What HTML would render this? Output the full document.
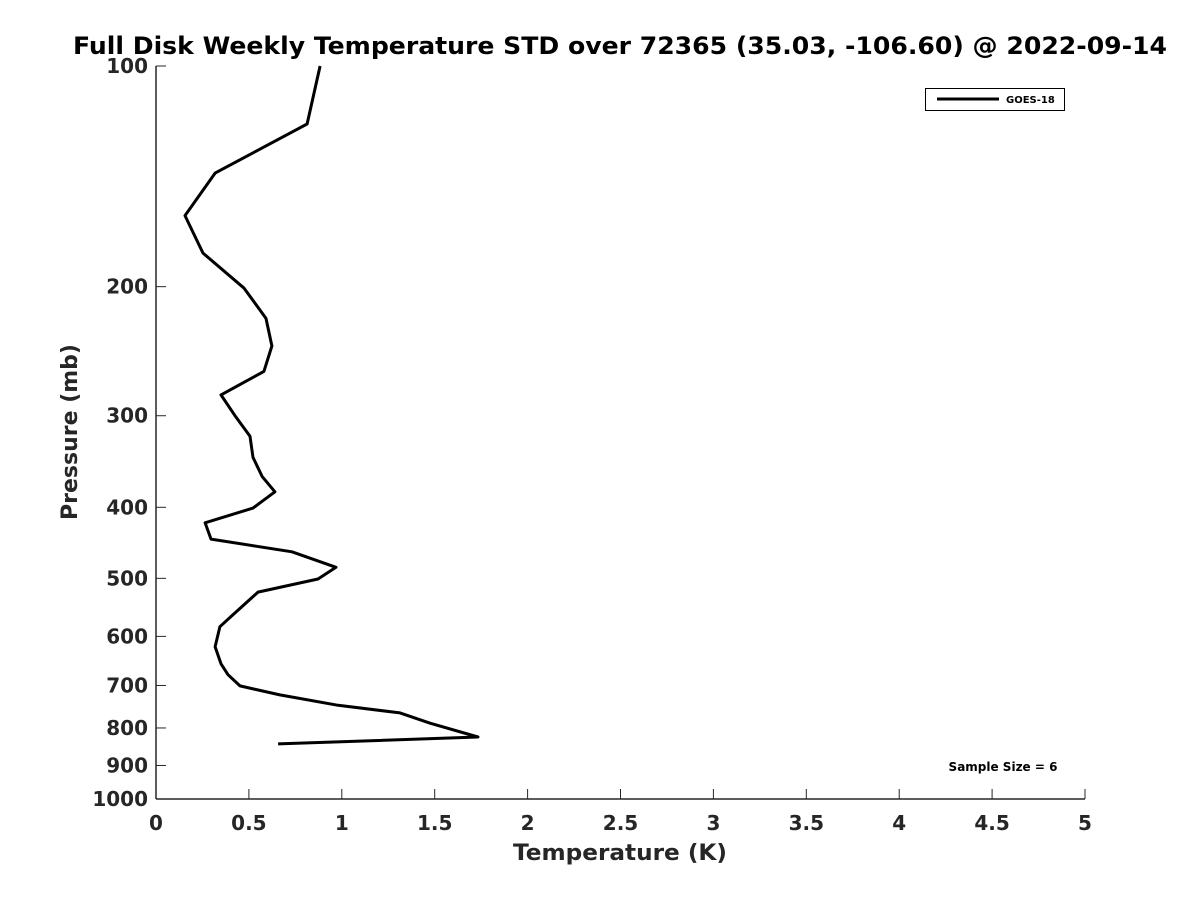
<!DOCTYPE html>
<html><head><meta charset="utf-8"><style>
body{margin:0;background:#fff;}
svg text{font-family:"DejaVu Sans","Liberation Sans",sans-serif;font-weight:bold;fill:#262626;}
</style></head><body>
<svg id="chart" width="1200" height="900" xmlns="http://www.w3.org/2000/svg">
<rect width="1200" height="900" fill="#fff"/>
<text x="620" y="54" text-anchor="middle" font-size="24" textLength="1094" lengthAdjust="spacingAndGlyphs" style="fill:#000">Full Disk Weekly Temperature STD over 72365 (35.03, -106.60) @ 2022-09-14</text>
<g id="axes"></g>
<polyline id="series" fill="none" stroke="#000" stroke-width="3" stroke-linejoin="round"/>
<g>
<rect x="925.5" y="88.5" width="139" height="22" fill="#fff" stroke="#000" stroke-width="1"/>
<line x1="937" y1="99" x2="999" y2="99" stroke="#000" stroke-width="3"/>
<text x="1006" y="103" font-size="10" style="fill:#000">GOES-18</text>
</g>
<text x="1003" y="771" text-anchor="middle" font-size="12" style="fill:#000">Sample Size = 6</text>
<text x="620" y="860" text-anchor="middle" font-size="22" textLength="214" lengthAdjust="spacingAndGlyphs">Temperature (K)</text>
<text transform="translate(77,432) rotate(-90)" text-anchor="middle" font-size="22">Pressure (mb)</text>
</svg>
<script>
const temps=[0.883,0.813,0.318,0.156,0.253,0.474,0.592,0.624,0.581,0.350,0.425,0.506,0.522,0.571,0.640,0.522,0.264,0.296,0.732,0.969,0.872,0.549,0.409,0.344,0.318,0.350,0.388,0.452,0.667,0.980,1.313,1.475,1.733,0.657];
const pressures=[100,120,140,160,180,201,221,241,261,281,300,320,342,363,381,401,420,442,460,483,501,522,562,582,620,654,677,701,721,745,763,788,823,841];
const xTicks=[0,0.5,1,1.5,2,2.5,3,3.5,4,4.5,5];
const xTickLabels=["0","0.5","1","1.5","2","2.5","3","3.5","4","4.5","5"];
const yTicks=[100,200,300,400,500,600,700,800,900,1000];
const X0=156,X1=1085,Y0=66,Y1=799;
const xs=v=>X0+(v/5)*(X1-X0);
const ys=p=>Y0+(Math.log10(p)-2)*(Y1-Y0);
const NS="http://www.w3.org/2000/svg";
const ax=document.getElementById('axes');
function mk(t,a){const e=document.createElementNS(NS,t);for(const k in a)e.setAttribute(k,a[k]);ax.appendChild(e);return e;}
const yl=mk('line',{x1:X0,y1:Y0,x2:X0,y2:Y1,stroke:'#262626','stroke-width':1.5});


const xl=mk('line',{x1:X0,y1:Y1,x2:X1,y2:Y1,stroke:'#262626','stroke-width':1.5});


xTicks.forEach((v,i)=>{
  const x=xs(v);
  mk('line',{x1:x,y1:Y1,x2:x,y2:Y1-10,stroke:'#262626','stroke-width':1});
  const t=mk('text',{x:x,y:Y1+31,'text-anchor':'middle','font-size':20});
  t.textContent=xTickLabels[i];
  
  
});
yTicks.forEach(p=>{
  const y=ys(p);
  mk('line',{x1:X0,y1:y,x2:X0+10,y2:y,stroke:'#262626','stroke-width':1});
  const t=mk('text',{x:X0-8,y:y+7,'text-anchor':'end','font-size':20});
  t.textContent=String(p);
  
  
});
document.getElementById('series').setAttribute('points',temps.map((v,i)=>xs(v).toFixed(1)+','+ys(pressures[i]).toFixed(1)).join(' '));
</script>
</body></html>
